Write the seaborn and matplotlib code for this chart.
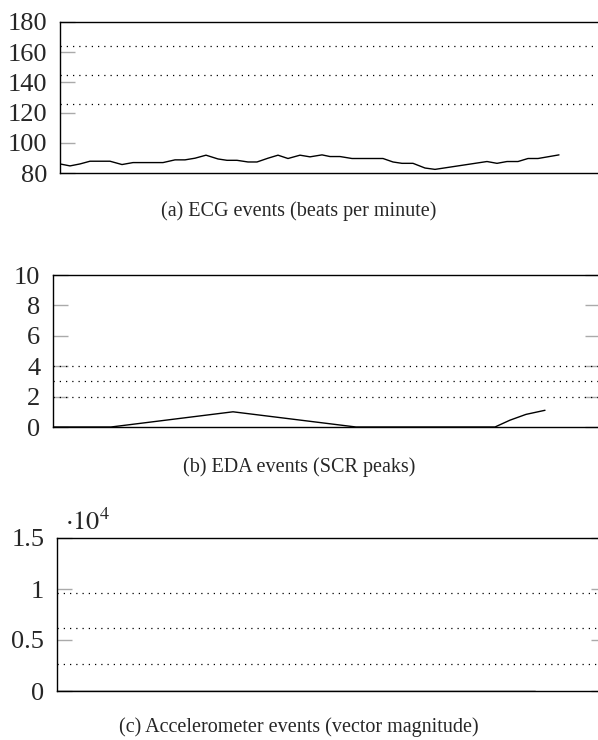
import pandas as pd
import seaborn as sns
import matplotlib.pyplot as plt
from matplotlib.ticker import FuncFormatter

# Data (x in sample units, one unit ~ 10 px)
ecg_x = [0, 1, 2, 3, 5, 6.2, 7.3, 10.3, 11.5, 12.5, 13.5, 14.6, 15.8, 16.7, 17.7,
         18.8, 19.7, 20.8, 21.8, 22.8, 24, 25, 26.2, 27, 28, 29.2, 32.3, 33.3,
         34.2, 35.3, 36.5, 37.5, 39.3, 41.3, 42.7, 43.7, 44.7, 45.8, 46.8, 47.8, 49.9]
ecg_bpm = [86, 84.7, 86, 87.8, 87.8, 85.6, 86.9, 86.9, 88.7, 88.7, 89.8, 91.8, 89.3,
           88.4, 88.4, 87.3, 87.3, 89.8, 91.8, 89.6, 91.8, 90.7, 92, 90.9, 90.9,
           89.6, 89.6, 87.3, 86.4, 86.4, 83.3, 82.4, 84.2, 86.2, 87.6, 86.4, 87.6,
           87.6, 89.6, 89.6, 92]
ecg_thresholds = [126, 145, 164]

eda_x = [0, 5.8, 18, 30.3, 44.2, 45.7, 47.3, 49.2]
eda_peaks = [0, 0, 1, 0, 0, 0.45, 0.83, 1.1]
eda_thresholds = [2, 3, 4]

acc_x = [0, 10, 20, 30, 40, 47.8]
acc_vm = [0, 0, 0, 0, 0, 0]
acc_thresholds = [2690, 6167, 9642]

captions = ["(a) ECG events (beats per minute)",
            "(b) EDA events (SCR peaks)",
            "(c) Accelerometer events (vector magnitude)"]

sns.set_style('white')
plt.rcParams['font.family'] = ['Liberation Serif', 'DejaVu Serif']
plt.rcParams['mathtext.fontset'] = 'stix'

W, H = 598, 740
fig = plt.figure(figsize=(W / 100, H / 100), dpi=100)

def add_axes(left, top, bottom, width):
    return fig.add_axes([left / W, 1 - bottom / H, width / W, (bottom - top) / H])

ax1 = add_axes(60, 22, 173, 560)
ax2 = add_axes(53, 275, 427, 547)
ax3 = add_axes(56.7, 538, 691, 549)

panels = [
    (ax1, ecg_x, ecg_bpm, ecg_thresholds, (80, 180), [80, 100, 120, 140, 160, 180]),
    (ax2, eda_x, eda_peaks, eda_thresholds, (0, 10), [0, 2, 4, 6, 8, 10]),
    (ax3, acc_x, acc_vm, acc_thresholds, (0, 15000), [0, 5000, 10000, 15000]),
]

for ax, xs, ys, thr, ylim, yticks in panels:
    df = pd.DataFrame({'x': xs, 'y': ys})
    sns.lineplot(data=df, x='x', y='y', ax=ax, color='black', linewidth=1.0)
    for t in thr:
        ax.axhline(t, color='black', linestyle=(0, (1, 4)), linewidth=0.9)
    # keep ~10 px per unit on every panel
    width_px = ax.get_position().width * W
    ax.set(xlim=(0, width_px / 10), ylim=ylim, xlabel='', ylabel='')
    ax.set_xticks([])
    ax.set_yticks(yticks)
    ax.tick_params(axis='y', direction='in', length=11, width=1, color='#aaaaaa',
                   left=True, right=True, labelsize=19, pad=9)
    for s in ax.spines.values():
        s.set_color('black')
        s.set_linewidth(1.0)

ax3.yaxis.set_major_formatter(FuncFormatter(lambda v, p: f"{v / 1e4:g}"))
ax3.text(0.015, 1.02, r'$\cdot 10^4$', transform=ax3.transAxes, fontsize=19,
         ha='left', va='bottom')

for y, cap in zip([211, 467, 727], captions):
    fig.text(0.5, 1 - y / H, cap, ha='center', va='center', fontsize=14.5)

fig.savefig('out.png', dpi=100)
